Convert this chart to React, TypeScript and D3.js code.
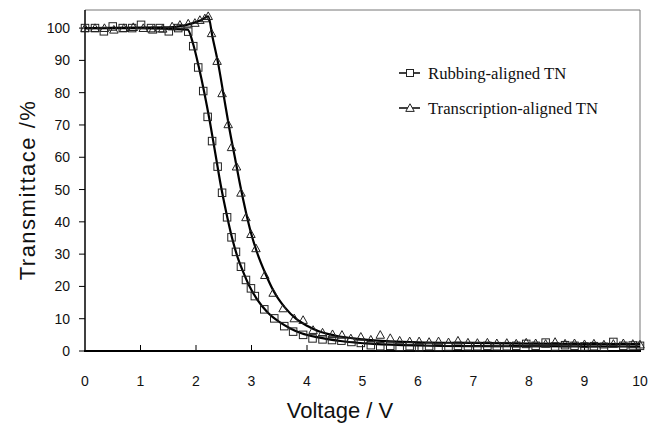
import React from "react";
import * as d3 from "d3";

// Measured points
const rubbingV = [0, 0.18, 0.34, 0.5, 0.68, 0.85, 1.01, 1.19, 1.35, 1.51, 1.68, 1.86, 1.95, 2.04, 2.13, 2.21, 2.29, 2.39, 2.47, 2.56, 2.64, 2.72, 2.81, 2.9, 2.99, 3.06, 3.23, 3.41, 3.59, 3.75, 3.93, 4.1, 4.28, 4.45, 4.62, 4.8, 4.97, 5.15, 5.32, 5.5, 5.67, 5.85, 6.02, 6.2, 6.37, 6.55, 6.72, 6.9, 7.07, 7.25, 7.42, 7.6, 7.77, 7.95, 8.12, 8.3, 8.47, 8.65, 8.82, 9.0, 9.17, 9.35, 9.52, 9.7, 9.87, 10.0];
const rubbingT = [100, 100, 99, 100.5, 100, 100, 101, 100, 100, 99, 100, 98.9, 94.4, 87.8, 80.5, 72.5, 65, 57.1, 49, 41.4, 35.2, 30.7, 26.1, 22, 19.4, 17, 12.9, 10.1, 7.7, 6, 5, 3.9, 3.6, 3.4, 3.2, 2.8, 2.5, 1.8, 1.5, 1.6, 1.3, 1.5, 1.2, 1.5, 1.3, 1.4, 1.6, 1.5, 1.5, 1.6, 1.5, 1.5, 1.6, 2.2, 1.6, 2.6, 1.4, 1.8, 1.6, 1.4, 1.5, 1.3, 2.8, 1.6, 1.7, 1.6];

const transV = [0, 0.18, 0.35, 0.52, 0.7, 0.87, 1.05, 1.22, 1.4, 1.57, 1.71, 1.86, 1.98, 2.07, 2.16, 2.22, 2.28, 2.38, 2.47, 2.58, 2.64, 2.73, 2.81, 2.9, 2.99, 3.08, 3.24, 3.39, 3.57, 3.77, 3.93, 4.11, 4.28, 4.46, 4.63, 4.79, 4.97, 5.15, 5.32, 5.5, 5.67, 5.85, 6.02, 6.2, 6.37, 6.55, 6.72, 6.9, 7.07, 7.25, 7.42, 7.6, 7.77, 7.95, 8.12, 8.3, 8.47, 8.65, 8.82, 9.0, 9.17, 9.35, 9.52, 9.7, 9.87, 10.0];
const transT = [100, 100, 100, 99.5, 100, 100.3, 100, 99.5, 99.8, 100.5, 101, 101.4, 101.6, 102.5, 103, 103.7, 98.4, 89.8, 79.8, 70.2, 63.1, 57.1, 49, 41.4, 36.2, 31.8, 23.5, 18, 13.2, 10.1, 9.6, 6.5, 5.7, 5.2, 5, 3.9, 4.4, 3.5, 5, 4, 3.2, 3, 3, 2.8, 3, 2.7, 3.2, 2.6, 2.5, 2.6, 2.4, 2.5, 2.3, 2.6, 2.4, 2.2, 2.8, 2.3, 2.4, 2.1, 2.3, 2, 2.2, 2.4, 2.2, 2];

// Fitted curves
const rubbingFitV = [0, 1.0, 1.85, 1.95, 2.05, 2.15, 2.25, 2.35, 2.45, 2.55, 2.65, 2.75, 2.85, 2.95, 3.1, 3.3, 3.5, 3.7, 3.9, 4.2, 4.6, 5.2, 6, 7, 10];
const rubbingFitT = [100, 100, 99.5, 95, 88, 80, 71, 61, 51, 42.5, 35, 29, 24.5, 20.5, 16, 11.8, 9, 7, 5.5, 4.2, 3.1, 2.2, 1.7, 1.5, 1.4];
const transFitV = [0, 1.5, 1.9, 2.1, 2.22, 2.3, 2.4, 2.5, 2.6, 2.7, 2.8, 2.9, 3.0, 3.1, 3.25, 3.4, 3.6, 3.8, 4.0, 4.2, 4.5, 5, 5.5, 6, 7, 8, 10];
const transFitT = [100, 100.2, 101.3, 102.5, 103.6, 97, 89, 79, 69, 60, 51, 43, 36, 30.5, 24, 18.5, 13.5, 10, 7.8, 6.2, 4.8, 3.6, 3.0, 2.7, 2.5, 2.3, 2.1];

const xTicks = [0, 1, 2, 3, 4, 5, 6, 7, 8, 9, 10];
const yTicks = [0, 10, 20, 30, 40, 50, 60, 70, 80, 90, 100];
const legendLabels = ["Rubbing-aligned TN", "Transcription-aligned TN"];

export default function App() {
  const W = 657, H = 430;
  const left = 85, right = 640, top = 10, bottom = 351;
  const x = d3.scaleLinear().domain([0, 10]).range([left, right]);
  const y = d3.scaleLinear().domain([0, 105.6]).range([bottom, top]);
  const mk = (vs: number[], ts: number[]) => vs.map((v, i) => [v, ts[i]] as [number, number]);
  const lineGen = d3.line<[number, number]>().x((d) => x(d[0])).y((d) => y(d[1])).curve(d3.curveMonotoneX);
  const rubFit = lineGen(mk(rubbingFitV, rubbingFitT)) || "";
  const trFit = lineGen(mk(transFitV, transFitT)) || "";
  const sq = 7.5;
  const tri = (cx: number, cy: number, s = 8.5) =>
    `M${cx},${cy - s * 0.5}L${cx + s / 2},${cy + s * 0.4}L${cx - s / 2},${cy + s * 0.4}Z`;
  const sans = "'Liberation Sans', Arial, sans-serif";
  return (
    <svg width={W} height={H} style={{ position: "absolute", left: 0, top: 0, background: "#fff" }}>
      <rect x={0} y={0} width={W} height={H} fill="#fff" />
      {/* frame */}
      <line x1={left} x2={right} y1={top} y2={top} stroke="#777" strokeWidth={1} />
      <line x1={right} x2={right} y1={top} y2={bottom} stroke="#777" strokeWidth={1} />
      <line x1={left} x2={left} y1={top} y2={bottom} stroke="#000" strokeWidth={1.5} />
      <line x1={left - 1} x2={right + 1} y1={bottom} y2={bottom} stroke="#000" strokeWidth={2} />
      {/* y ticks */}
      {yTicks.map((t) => (
        <g key={"y" + t}>
          <line x1={left - 6} x2={left} y1={y(t)} y2={y(t)} stroke="#000" strokeWidth={1} />
          <text x={left - 15} y={y(t)} dy="0.36em" textAnchor="end" fontFamily={sans} fontSize={14} fill="#111">
            {t}
          </text>
        </g>
      ))}
      {/* x ticks */}
      {xTicks.map((t) => (
        <g key={"x" + t}>
          {t > 0 && t < 10 && (
            <line x1={x(t)} x2={x(t)} y1={bottom} y2={bottom - 6} stroke="#000" strokeWidth={1} />
          )}
          <text x={x(t)} y={381} dy="0.36em" textAnchor="middle" fontFamily={sans} fontSize={14} fill="#111">
            {t}
          </text>
        </g>
      ))}
      {/* axis titles */}
      <text x={340} y={418} textAnchor="middle" fontFamily={sans} fontSize={22} fill="#111">
        Voltage / V
      </text>
      <text
        transform={`translate(35,190) rotate(-90)`}
        textAnchor="middle"
        fontFamily={sans}
        fontSize={22}
        letterSpacing={1.5}
        fill="#111"
      >
        Transmittace /%
      </text>
      {/* lines */}
      <path d={rubFit} fill="none" stroke="#000" strokeWidth={2.2} />
      <path d={trFit} fill="none" stroke="#000" strokeWidth={2.2} />
      {/* markers */}
      {mk(rubbingV, rubbingT).map((d, i) => (
        <rect key={"r" + i} x={x(d[0]) - sq / 2} y={y(d[1]) - sq / 2} width={sq} height={sq} fill="none" stroke="#222" strokeWidth={1} />
      ))}
      {mk(transV, transT).map((d, i) => (
        <path key={"t" + i} d={tri(x(d[0]), y(d[1]))} fill="none" stroke="#222" strokeWidth={1} />
      ))}
      {/* legend */}
      {legendLabels.map((lab, i) => {
        const ly = 73 + i * 35;
        return (
          <g key={lab}>
            <line x1={399} x2={420} y1={ly} y2={ly} stroke="#000" strokeWidth={1.5} />
            {i === 0 ? (
              <rect x={410 - 3.5} y={ly - 3.5} width={7} height={7} fill="#fff" stroke="#222" strokeWidth={1} />
            ) : (
              <path d={tri(410, ly)} fill="#fff" stroke="#222" strokeWidth={1} />
            )}
            <text x={428} y={ly} dy="0.35em" fontFamily="'Liberation Serif', 'Times New Roman', serif" fontSize={16.7} fill="#111">
              {lab}
            </text>
          </g>
        );
      })}
    </svg>
  );
}
